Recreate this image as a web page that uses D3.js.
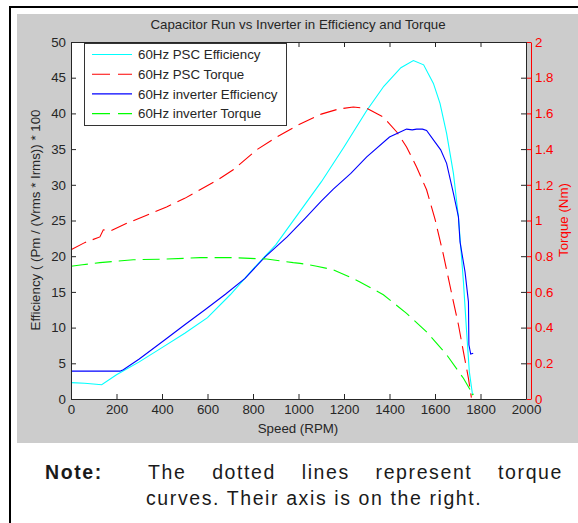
<!DOCTYPE html>
<html>

<head>
    <meta charset="utf-8">
    <title>Capacitor Run vs Inverter in Efficiency and Torque</title>
    <script type="text/javascript" src="https://d3js.org/d3.v7.min.js"></script>
    <style>
        body { margin: 0; background: #fff; }
        text { font-family: "Liberation Sans", Arial, sans-serif; }
    </style>
</head>

<body>
    <script type="text/javascript">
        //Tick labels
        var speedTicks = [0, 200, 400, 600, 800, 1000, 1200, 1400, 1600, 1800, 2000];
        var effTicks = [0, 5, 10, 15, 20, 25, 30, 35, 40, 45, 50];
        var torqueTicks = [0, 0.2, 0.4, 0.6, 0.8, 1, 1.2, 1.4, 1.6, 1.8, 2];

        //60Hz PSC efficiency
        var pscEffSpeed = [0, 60, 135, 200, 300, 400, 500, 600, 700, 800, 900, 1000, 1100, 1200, 1300, 1375, 1450, 1505, 1550, 1593, 1622, 1651, 1681, 1703, 1725, 1739, 1751, 1761, 1765];
        var pscEff = [2.3, 2.2, 2.0, 3.4, 5.2, 7.2, 9.2, 11.4, 14.6, 18.2, 21.6, 26.0, 30.4, 35.3, 40.4, 43.8, 46.4, 47.4, 46.8, 44.2, 41.4, 37.2, 31.6, 25.5, 16.4, 9.4, 3.8, 1.5, 0.6];

        //60Hz PSC torque (Nm)
        var pscTorqueSpeed = [0, 60, 127, 142, 171, 245, 330, 420, 500, 567, 640, 713, 816, 900, 1000, 1100, 1175, 1241, 1300, 1373, 1432, 1475, 1519, 1563, 1600, 1637, 1659, 1681, 1703, 1725, 1747, 1757, 1760];
        var pscTorque = [0.836, 0.876, 0.908, 0.948, 0.94, 0.984, 1.028, 1.076, 1.124, 1.172, 1.224, 1.284, 1.396, 1.464, 1.536, 1.596, 1.624, 1.636, 1.628, 1.58, 1.496, 1.412, 1.30, 1.172, 1.008, 0.808, 0.676, 0.544, 0.416, 0.264, 0.116, 0.032, 0.008];

        //60Hz inverter efficiency
        var invEffSpeed = [0, 215, 230, 300, 413, 500, 589, 680, 765, 853, 950, 1029, 1100, 1153, 1230, 1300, 1400, 1440, 1475, 1500, 1519, 1545, 1563, 1593, 1625, 1651, 1681, 1703, 1710, 1732, 1747, 1749, 1757, 1768];
        var invEff = [3.9, 3.9, 4.1, 5.6, 8.3, 10.4, 12.5, 14.7, 16.9, 19.9, 22.7, 25.3, 27.7, 29.4, 31.6, 33.9, 36.7, 37.3, 37.8, 37.7, 37.8, 37.8, 37.6, 36.3, 34.9, 33.0, 28.8, 25.5, 22.0, 17.8, 13.6, 7.6, 6.3, 6.4];

        //60Hz inverter torque (Nm)
        var invTorqueSpeed = [0, 50, 127, 274, 420, 567, 713, 860, 977, 1007, 1080, 1153, 1210, 1270, 1373, 1475, 1563, 1651, 1725, 1754, 1757, 1770];
        var invTorque = [0.744, 0.752, 0.764, 0.78, 0.784, 0.792, 0.792, 0.784, 0.764, 0.76, 0.744, 0.724, 0.692, 0.656, 0.584, 0.48, 0.376, 0.248, 0.116, 0.052, 0.02, 0.028];

        //Width and height
        var w = 578;
        var h = 523;
        var fs = 13.3;
        var ink = "#262626";

        var svg = d3.select("body")
            .append("svg")
            .attr("width", w)
            .attr("height", h);

        //Frame and grey figure background
        svg.append("rect")
            .attr("x", 10).attr("y", 7)
            .attr("width", 580).attr("height", 530)
            .attr("fill", "#fff")
            .attr("stroke", "#000")
            .attr("stroke-width", 2);
        svg.append("rect")
            .attr("x", 17).attr("y", 14)
            .attr("width", 561).attr("height", 429)
            .attr("fill", "#cccccc");

        //Scales
        var x = d3.scaleLinear().domain([0, 2000]).range([71, 526]);
        var y = d3.scaleLinear().domain([0, 50]).range([399, 42]);
        var yR = d3.scaleLinear().domain([0, 2]).range([399, 42]);

        //Plot area
        svg.append("rect")
            .attr("x", 71).attr("y", 42)
            .attr("width", 455).attr("height", 357)
            .attr("fill", "#fff");

        //Lines
        var effLine = d3.line()
            .x(d => x(d[0]))
            .y(d => y(d[1]));
        var torqueLine = d3.line()
            .x(d => x(d[0]))
            .y(d => yR(d[1]));

        var series = [
            { name: "60Hz PSC Efficiency", color: "#00ffff", dash: null, gen: effLine, pts: d3.zip(pscEffSpeed, pscEff) },
            { name: "60Hz PSC Torque", color: "#ff0000", dash: "17,7", gen: torqueLine, pts: d3.zip(pscTorqueSpeed, pscTorque) },
            { name: "60Hz inverter Efficiency", color: "#0000ff", dash: null, gen: effLine, pts: d3.zip(invEffSpeed, invEff) },
            { name: "60Hz inverter Torque", color: "#00ff00", dash: "17,7", gen: torqueLine, pts: d3.zip(invTorqueSpeed, invTorque) }
        ];

        svg.selectAll("path.series")
            .data(series)
            .enter()
            .append("path")
            .attr("class", "series")
            .attr("d", d => d.gen(d.pts))
            .attr("fill", "none")
            .attr("stroke", d => d.color)
            .attr("stroke-width", 1.1)
            .attr("stroke-dasharray", d => d.dash);

        //Axes
        function style(g, color) {
            g.selectAll("path, line").attr("stroke", color);
            g.selectAll("text")
                .attr("fill", color)
                .style("font-size", fs + "px")
                .style("font-family", "'Liberation Sans', Arial, sans-serif");
        }

        svg.append("g")
            .attr("transform", "translate(0,399)")
            .call(d3.axisBottom(x).tickValues(speedTicks).tickFormat(d3.format("d")).tickSizeInner(-5).tickSizeOuter(0).tickPadding(6))
            .call(g => style(g, ink));

        svg.append("g")
            .attr("transform", "translate(0,42)")
            .call(d3.axisTop(x).tickValues(speedTicks).tickFormat("").tickSizeInner(-5).tickSizeOuter(0))
            .call(g => style(g, ink));

        svg.append("g")
            .attr("transform", "translate(71,0)")
            .call(d3.axisLeft(y).tickValues(effTicks).tickSizeInner(-5).tickSizeOuter(0).tickPadding(5))
            .call(g => style(g, ink));

        svg.append("g")
            .attr("transform", "translate(526,0)")
            .call(d3.axisRight(y).tickValues(effTicks).tickFormat("").tickSizeInner(-5).tickSizeOuter(0))
            .call(g => style(g, ink));

        svg.append("g")
            .attr("transform", "translate(531,0)")
            .call(d3.axisRight(yR).tickValues(torqueTicks).tickFormat(d3.format("")).tickSizeInner(-4).tickSizeOuter(0).tickPadding(4))
            .call(g => style(g, "#ff0000"));

        //Titles
        svg.append("text")
            .attr("x", 298).attr("y", 29)
            .attr("text-anchor", "middle")
            .style("font-size", fs + "px")
            .attr("fill", ink)
            .text("Capacitor Run vs Inverter in Efficiency and Torque");

        svg.append("text")
            .attr("x", 298).attr("y", 433)
            .attr("text-anchor", "middle")
            .style("font-size", fs + "px")
            .attr("fill", ink)
            .text("Speed (RPM)");

        svg.append("text")
            .attr("transform", "translate(40,220) rotate(-90)")
            .attr("text-anchor", "middle")
            .style("font-size", fs + "px")
            .attr("fill", ink)
            .text("Efficiency ( (Pm / (Vrms * Irms)) * 100");

        svg.append("text")
            .attr("transform", "translate(568,220) rotate(-90)")
            .attr("text-anchor", "middle")
            .style("font-size", fs + "px")
            .attr("fill", "#ff0000")
            .text("Torque (Nm)");

        //Legend
        var legend = svg.append("g");
        legend.append("rect")
            .attr("x", 84.5).attr("y", 43.5)
            .attr("width", 202).attr("height", 82)
            .attr("fill", "#fff")
            .attr("stroke", "#333")
            .attr("stroke-width", 1);

        var item = legend.selectAll("g.item")
            .data(series)
            .enter()
            .append("g")
            .attr("class", "item")
            .attr("transform", (d, i) => "translate(0," + (54.5 + i * 19.7) + ")");
        item.append("line")
            .attr("x1", 92).attr("x2", 132)
            .attr("stroke", d => d.color)
            .attr("stroke-width", 1.1)
            .attr("stroke-dasharray", d => d.dash ? "18,8" : null);
        item.append("text")
            .attr("x", 138).attr("y", 4.8)
            .style("font-size", fs + "px")
            .attr("fill", ink)
            .text(d => d.name);

        //Note under the figure
        var noteFont = "19.5px";
        var noteSpacing = "1.6px";
        svg.append("text")
            .attr("x", 45).attr("y", 479)
            .style("font-size", noteFont)
            .style("letter-spacing", noteSpacing)
            .style("font-weight", "bold")
            .attr("fill", "#1a1a1a")
            .text("Note:");

        var words = ["The", "dotted", "lines", "represent", "torque"];
        var nodes = words.map(function(wd) {
            return svg.append("text")
                .attr("y", 479)
                .style("font-size", noteFont)
                .style("letter-spacing", noteSpacing)
                .attr("fill", "#1a1a1a")
                .text(wd);
        });
        var widths = nodes.map(n => n.node().getComputedTextLength());
        var gap = (563 - 148 - d3.sum(widths)) / (words.length - 1);
        var cx = 148;
        nodes.forEach(function(n, i) {
            n.attr("x", cx);
            cx += widths[i] + gap;
        });

        svg.append("text")
            .attr("x", 146).attr("y", 505)
            .style("font-size", noteFont)
            .style("letter-spacing", noteSpacing)
            .attr("fill", "#1a1a1a")
            .text("curves. Their axis is on the right.");
    </script>
</body>

</html>
